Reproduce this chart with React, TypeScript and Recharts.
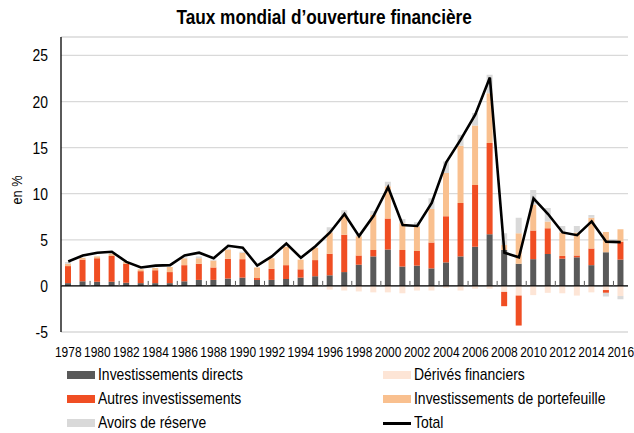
import { Bar, CartesianGrid, ComposedChart, Line, ReferenceLine, XAxis, YAxis } from "recharts";

const years = [
  1978, 1979, 1980, 1981, 1982, 1983, 1984, 1985, 1986, 1987, 1988, 1989, 1990,
  1991, 1992, 1993, 1994, 1995, 1996, 1997, 1998, 1999, 2000, 2001, 2002, 2003,
  2004, 2005, 2006, 2007, 2008, 2009, 2010, 2011, 2012, 2013, 2014, 2015, 2016
];

const directs = [
  0.3, 0.5, 0.45, 0.45, 0.35, 0.3, 0.3, 0.3, 0.5, 0.65, 0.65, 0.8, 0.9,
  0.65, 0.65, 0.75, 0.9, 1.05, 1.15, 1.5, 2.3, 3.2, 3.95, 2.1, 2.2, 1.9,
  2.55, 3.2, 4.25, 5.6, 3.9, 2.4, 2.9, 3.45, 2.95, 3.1, 2.25, 3.65, 2.85
];

const derives = [
  0, 0, 0, 0, 0, 0, 0, 0, 0, 0, 0, 0, 0,
  0, 0, 0, 0, -0.1, -0.4, -0.5, -0.6, -0.7, -0.7, -0.8, -0.5, -0.5,
  -0.2, -0.5, -0.3, -0.3, -0.65, -1.05, -1.0, -0.75, -0.8, -1.05, -0.7, -0.45, -1.1
];

const autres = [
  1.85, 2.35, 2.55, 2.8, 2.05, 1.3, 1.4, 1.2, 1.75, 1.75, 1.35, 2.15, 2.0,
  0.2, 1.2, 1.5, 0.9, 1.75, 2.35, 4.05, 1.0, 0.7, 3.35, 1.8, 1.6, 2.8,
  5.0, 5.8, 6.7, 9.9, -1.55, -3.25, 3.1, 2.8, 0.3, 0.2, 1.8, -0.3, 1.95
];

const portefeuille = [
  0.25, 0.2, 0.2, 0.25, 0.2, 0.2, 0.25, 0.55, 0.75, 0.6, 0.75, 1.0, 0.7,
  1.15, 1.15, 2.0, 1.05, 1.35, 2.3, 2.1, 2.1, 3.8, 3.5, 2.9, 2.65, 3.65,
  4.7, 6.2, 6.45, 5.4, 0.55, 3.3, 2.8, 0.75, 2.55, 2.5, 3.35, 2.2, 1.35
];

const reserve = [
  0.2, 0, 0, 0, 0, 0, 0, 0, 0.1, 0.2, 0.1, 0.1, 0.1,
  0, 0, 0, 0, 0, 0.55, 0.55, 0.15, 0.45, 0.5, 0.45, 0.45, 1.15,
  1.25, 1.2, 1.35, 2.0, 1.25, 1.7, 1.6, 1.45, 0.7, 0.7, 0.3, -0.4, -0.35
];

const total = [
  2.65, 3.3, 3.6, 3.7, 2.6, 2.0, 2.2, 2.25, 3.3, 3.6, 3.0, 4.35, 4.15,
  2.2, 3.2, 4.6, 3.05, 4.3, 5.8, 7.8, 5.4, 7.6, 10.7, 6.6, 6.5, 9.0,
  13.4, 15.9, 18.6, 22.6, 3.6, 3.1, 9.5, 7.8, 5.8, 5.5, 7.0, 4.8, 4.75
];

const yTicks = [-5, 0, 5, 10, 15, 20, 25];

const data = years.map((y, i) => ({
  year: String(y),
  directs: directs[i],
  derives: derives[i],
  autres: autres[i],
  portefeuille: portefeuille[i],
  reserve: reserve[i],
  total: total[i]
}));

// no narrow font installed: squeeze Liberation Sans horizontally instead
const FONT = "'Liberation Sans', Arial, sans-serif";
const NARROW = 0.82;
const W = 634;
const H = 433;
const TOP = 37;
const LEFT = 61;
const RIGHT = 6;
const BOTTOM = 101;
const Y_MIN = -5;
const Y_MAX = 27;
const plotH = H - TOP - BOTTOM;
const plotW = W - LEFT - RIGHT;
const band = plotW / years.length;
const zeroY = TOP + (Y_MAX / (Y_MAX - Y_MIN)) * plotH;

const COLORS = {
  directs: "#595959",
  derives: "#fde5d6",
  autres: "#f04e23",
  portefeuille: "#f9c08f",
  reserve: "#d9d9d9"
};

function YearTick({ x, payload }: { x?: number; y?: number; payload?: { value: string } }) {
  const cx = x ?? 0;
  return (
    <g>
      <line x1={cx - band / 2} x2={cx - band / 2} y1={zeroY - 5} y2={zeroY} stroke="#595959" strokeWidth={1} />
      <text
        transform={`translate(${cx},${H - BOTTOM + 25}) scale(${NARROW},1)`}
        textAnchor="middle"
        fontFamily={FONT}
        fontSize={14.6}
        fill="#000"
      >
        {payload?.value}
      </text>
    </g>
  );
}

function ValueTick({ x, y, payload }: { x?: number; y?: number; payload?: { value: number } }) {
  return (
    <text
      transform={`translate(${(x ?? 0) + 1},${(y ?? 0) + 6}) scale(${NARROW},1)`}
      textAnchor="end"
      fontFamily={FONT}
      fontSize={17}
      fill="#000"
    >
      {payload?.value}
    </text>
  );
}

const legendItems = [
  { label: "Investissements directs", color: COLORS.directs, col: 0, row: 0 },
  { label: "Dérivés financiers", color: COLORS.derives, col: 1, row: 0 },
  { label: "Autres investissements", color: COLORS.autres, col: 0, row: 1 },
  { label: "Investissements de portefeuille", color: COLORS.portefeuille, col: 1, row: 1 },
  { label: "Avoirs de réserve", color: COLORS.reserve, col: 0, row: 2 },
  { label: "Total", color: "#000", col: 1, row: 2, line: true }
];

export default function App() {
  return (
    <div style={{ position: "absolute", left: 0, top: 0, width: W, height: H, background: "#fff", fontFamily: FONT, overflow: "hidden" }}>
      <div
        style={{
          position: "absolute",
          top: 5,
          left: 0,
          width: 648,
          textAlign: "center",
          color: "#000"
        }}
      >
        <span
          style={{
            display: "inline-block",
            fontWeight: "bold",
            fontSize: 21,
            transform: `scaleX(${NARROW})`,
            whiteSpace: "nowrap"
          }}
        >
          Taux mondial d’ouverture financière
        </span>
      </div>
      <div
        style={{
          position: "absolute",
          left: 17,
          top: 190,
          transform: `translate(-50%, -50%) rotate(-90deg) scaleX(${NARROW})`,
          fontSize: 15.5,
          whiteSpace: "nowrap",
          color: "#000"
        }}
      >
        en %
      </div>
      <ComposedChart
        width={W}
        height={H}
        data={data}
        stackOffset="sign"
        margin={{ top: TOP, right: RIGHT, left: 0, bottom: BOTTOM - 30 }}
      >
        <CartesianGrid vertical={false} stroke="#d9d9d9" strokeWidth={1.3} />
        <XAxis
          dataKey="year"
          interval={1}
          axisLine={false}
          tickLine={false}
          height={30}
          tick={<YearTick />}
        />
        <YAxis
          width={LEFT}
          domain={[Y_MIN, Y_MAX]}
          ticks={yTicks}
          allowDataOverflow
          axisLine={{ stroke: "#000", strokeWidth: 1.3 }}
          tickLine={false}
          tickMargin={8}
          tick={<ValueTick />}
        />
        <Bar dataKey="directs" stackId="a" fill={COLORS.directs} barSize={6} isAnimationActive={false} />
        <Bar dataKey="derives" stackId="a" fill={COLORS.derives} barSize={6} isAnimationActive={false} />
        <Bar dataKey="autres" stackId="a" fill={COLORS.autres} barSize={6} isAnimationActive={false} />
        <Bar dataKey="portefeuille" stackId="a" fill={COLORS.portefeuille} barSize={6} isAnimationActive={false} />
        <Bar dataKey="reserve" stackId="a" fill={COLORS.reserve} barSize={6} isAnimationActive={false} />
        <ReferenceLine y={0} stroke="#000" strokeWidth={1.3} />
        <Line
          type="linear"
          dataKey="total"
          stroke="#000"
          strokeWidth={2.6}
          dot={false}
          isAnimationActive={false}
        />
      </ComposedChart>
      {legendItems.map((it) => (
        <div
          key={it.label}
          style={{
            position: "absolute",
            left: it.col === 0 ? 67 : 383,
            top: 365 + it.row * 24,
            height: 20,
            display: "flex",
            alignItems: "center",
            color: "#000",
            whiteSpace: "nowrap",
            lineHeight: "20px"
          }}
        >
          <span
            style={{
              display: "inline-block",
              width: 28,
              height: it.line ? 3 : 8,
              background: it.color,
              marginRight: 3
            }}
          />
          <span
            style={{
              display: "inline-block",
              fontSize: 17,
              transform: `scaleX(${NARROW})`,
              transformOrigin: "left center"
            }}
          >
            {it.label}
          </span>
        </div>
      ))}
    </div>
  );
}
